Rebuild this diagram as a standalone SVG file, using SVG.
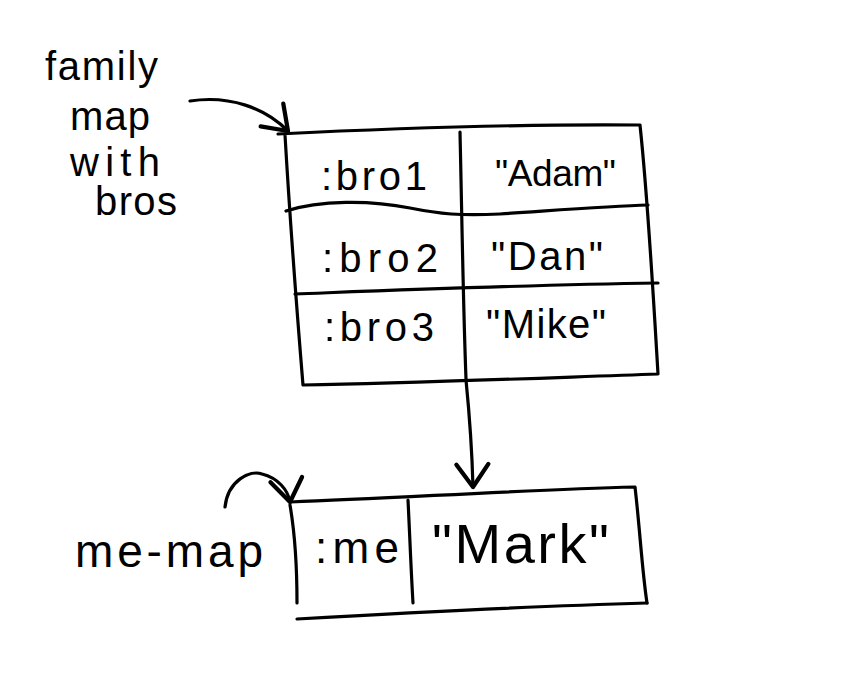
<svg xmlns="http://www.w3.org/2000/svg" width="860" height="675" viewBox="0 0 860 675">
<style>
  .ln { fill: none; stroke: #000; stroke-width: 3.2; stroke-linecap: round; stroke-linejoin: round; }
  .t { font-family: "Liberation Sans", "DejaVu Sans", sans-serif; fill: #000; }
  .s40 { font-size: 40px; }
</style>
<defs>
  <marker id="ah" markerUnits="userSpaceOnUse" markerWidth="40" markerHeight="40" viewBox="-25 -15 30 30" refX="0" refY="0" orient="auto" overflow="visible">
    <path d="M-17,-12 L0,0 L-17,12" fill="none" stroke="#000" stroke-width="3.2" stroke-linecap="round" stroke-linejoin="round"/>
  </marker>
</defs>
<rect width="860" height="675" fill="#fff"/>

<g id="label-family">
  <text class="t s40" x="45" y="80" textLength="113" lengthAdjust="spacing">family</text>
  <text class="t s40" x="70" y="130" textLength="80" lengthAdjust="spacing">map</text>
  <text class="t s40" x="70" y="176" textLength="90" lengthAdjust="spacing">with</text>
  <text class="t s40" x="95" y="215" textLength="82" lengthAdjust="spacing">bros</text>
</g>

<g id="family-map">
  <path class="ln" d="M278,134 C 400,128 530,124 640,125 C 648,200 653,290 658,374 C 540,378 420,383 303,385 C 296,300 290,220 285,135"/>
  <path class="ln" d="M286,211 C 320,200 370,200 410,208 C 440,214 460,216 500,214 C 560,210 610,206 648,205"/>
  <path class="ln" d="M295,294 C 400,290 520,285 658,283"/>
  <path class="ln" d="M460,132 C 462,220 463,300 466,379"/>
  <text class="t s40" x="321" y="190" textLength="106" lengthAdjust="spacing">:bro1</text>
  <text class="t" font-size="37" x="495" y="186" textLength="121" lengthAdjust="spacing">"Adam"</text>
  <text class="t s40" x="322" y="272" textLength="116" lengthAdjust="spacing">:bro2</text>
  <text class="t s40" x="491" y="270" textLength="112" lengthAdjust="spacing">"Dan"</text>
  <text class="t s40" x="324" y="341" textLength="110" lengthAdjust="spacing">:bro3</text>
  <text class="t s40" x="486" y="338" textLength="120" lengthAdjust="spacing">"Mike"</text>
</g>

<g id="label-me-map">
  <text class="t" font-size="46" x="75" y="567" textLength="188" lengthAdjust="spacing">me-map</text>
</g>

<g id="me-map">
  <path class="ln" d="M290,502 C 400,498 520,490 635,487 C 640,530 642,570 647,603"/>
  <path class="ln" d="M297,619 C 420,612 540,606 647,603"/>
  <path class="ln" d="M290,505 C 296,540 297,580 297,603"/>
  <path class="ln" d="M408,500 C 410,540 411,570 413,603"/>
  <text class="t" font-size="44" x="315" y="563" textLength="84" lengthAdjust="spacing">:me</text>
  <text class="t" font-size="56" x="432" y="563" textLength="177" lengthAdjust="spacing">"Mark"</text>
</g>

<g id="connectors">
  <path class="ln" d="M190,101 C 230,95 265,108 288,131" marker-end="url(#ah)"/>
  <path class="ln" d="M466,380 C 470,420 472,450 473,487" marker-end="url(#ah)"/>
  <path class="ln" d="M225,507 C 228,480 250,470 262,474 C 278,478 288,490 290,502" marker-end="url(#ah)"/>
</g>
</svg>
